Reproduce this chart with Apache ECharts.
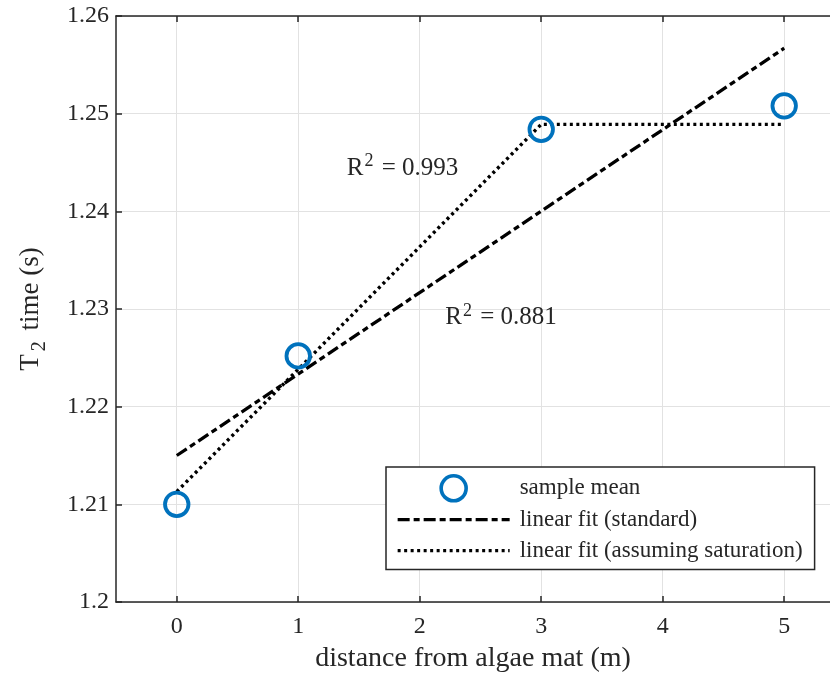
<!DOCTYPE html>
<html><head><meta charset="utf-8">
<script src="https://cdn.jsdelivr.net/npm/echarts@6/dist/echarts.min.js"></script>
<style>html,body{margin:0;padding:0;background:#fff}#c{width:830px;height:674px}</style>
</head><body><div id="c"></div>
<script>
const distances = [0, 1, 3, 5];
const sampleMeans = [1.2100, 1.2252, 1.2484, 1.2508];
const stdFitX = [0, 5];
const stdFitY = [1.2150, 1.2567];
const satFitX = [0, 3, 5];
const satFitY = [1.2113, 1.2489, 1.2489];
const xTicks = [0, 1, 2, 3, 4, 5];
const yTicks = [1.2, 1.21, 1.22, 1.23, 1.24, 1.25, 1.26];
const annotations = [
  {x: 1.40, y: 1.2444, text: '0.993'},
  {x: 2.21, y: 1.2291, text: '0.881'}
];
const seriesNames = ['sample mean', 'linear fit (standard)', 'linear fit (assuming saturation)'];

const FONT = '"Liberation Serif", "Times New Roman", serif';
const INK = '#262626';
const chart = echarts.init(document.getElementById('c'));
const tickStyle = {show: true, inside: true, length: 6, lineStyle: {color: INK, width: 1.5}};
chart.setOption({
  animation: false,
  backgroundColor: '#fff',
  grid: {left: 116, top: 16, bottom: 72, right: 0, containLabel: false, outerBoundsMode: 'none'},
  xAxis: [
    {
      type: 'value', min: -0.5, max: 5.377, position: 'bottom',
      axisLine: {show: true, onZero: false, lineStyle: {color: INK, width: 1.5}},
      axisTick: Object.assign({}, tickStyle, {customValues: xTicks}),
      axisLabel: {color: INK, fontFamily: FONT, fontSize: 24, margin: 13, customValues: xTicks},
      splitLine: {show: true, lineStyle: {color: '#e2e2e2', width: 1}},
      name: 'distance from algae mat (m)', nameLocation: 'middle', nameGap: 43,
      nameTextStyle: {color: INK, fontFamily: FONT, fontSize: 28}
    },
    {
      type: 'value', min: -0.5, max: 5.377, position: 'top',
      axisLine: {show: true, onZero: false, lineStyle: {color: INK, width: 1.5}},
      axisTick: Object.assign({}, tickStyle, {customValues: xTicks}),
      axisLabel: {show: false}, splitLine: {show: false}
    }
  ],
  yAxis: {
    type: 'value', min: 1.2, max: 1.26, interval: 0.01,
    axisLine: {show: true, onZero: false, lineStyle: {color: INK, width: 1.5}},
    axisTick: tickStyle,
    axisLabel: {color: INK, fontFamily: FONT, fontSize: 24, margin: 7,
      formatter: v => String(+v.toFixed(2))},
    splitLine: {show: true, lineStyle: {color: '#e2e2e2', width: 1}},
    name: '{t|T}{s|2}{t| time (s)}', nameLocation: 'middle', nameGap: 66, nameRotate: 90,
    nameTextStyle: {rich: {
      t: {color: INK, fontFamily: FONT, fontSize: 27},
      s: {color: INK, fontFamily: FONT, fontSize: 20, verticalAlign: 'bottom', padding: [18, 4, 0, 3]}
    }}
  },
  legend: {
    data: [
      {name: seriesNames[0], itemStyle: {borderWidth: 3.6, borderColor: '#0072BD', color: 'rgba(0,0,0,0)'}},
      {name: seriesNames[1], itemStyle: {opacity: 0}, lineStyle: {width: 3.3}},
      {name: seriesNames[2], itemStyle: {opacity: 0}, lineStyle: {width: 3.3}}
    ],
    orient: 'vertical', left: 386, top: 467,
    padding: [7, 12, 5, 10], itemWidth: 112, itemHeight: 25, itemGap: 3,
    backgroundColor: '#fff', borderColor: INK, borderWidth: 1.5, borderRadius: 0,
    textStyle: {color: INK, fontFamily: FONT, fontSize: 23, lineHeight: 28, padding: [0, 0, 0, 5]},
    selectedMode: false
  },
  series: [
    {
      name: seriesNames[1], type: 'line', symbol: 'none', z: 3,
      data: stdFitX.map((x, i) => [x, stdFitY[i]]),
      lineStyle: {color: '#000', width: 3.3, type: [12, 4, 6, 4]},
      itemStyle: {color: '#000'}
    },
    {
      name: seriesNames[2], type: 'line', symbol: 'none', z: 3,
      data: satFitX.map((x, i) => [x, satFitY[i]]),
      lineStyle: {color: '#000', width: 3.4, type: [3, 3.5]},
      itemStyle: {color: '#000'}
    },
    {
      name: seriesNames[0], type: 'scatter', symbol: 'circle', symbolSize: 23.5, z: 4,
      data: distances.map((x, i) => [x, sampleMeans[i]]),
      itemStyle: {opacity: 1, color: 'rgba(0,0,0,0)', borderColor: '#0072BD', borderWidth: 3.8}
    },
    {
      name: 'annotations', type: 'scatter', symbolSize: 0, silent: true, z: 5,
      itemStyle: {opacity: 1},
      data: annotations.map(a => ({value: [a.x, a.y], text: a.text})),
      label: {
        show: true, position: 'right', distance: 0,
        formatter: p => '{r|R}{sup|2}{r| = ' + p.data.text + '}',
        rich: {
          r: {color: INK, fontFamily: FONT, fontSize: 25},
          sup: {color: INK, fontFamily: FONT, fontSize: 18, verticalAlign: 'top', padding: [0, 2, 14, 1]}
        }
      }
    }
  ]
});
</script></body></html>
